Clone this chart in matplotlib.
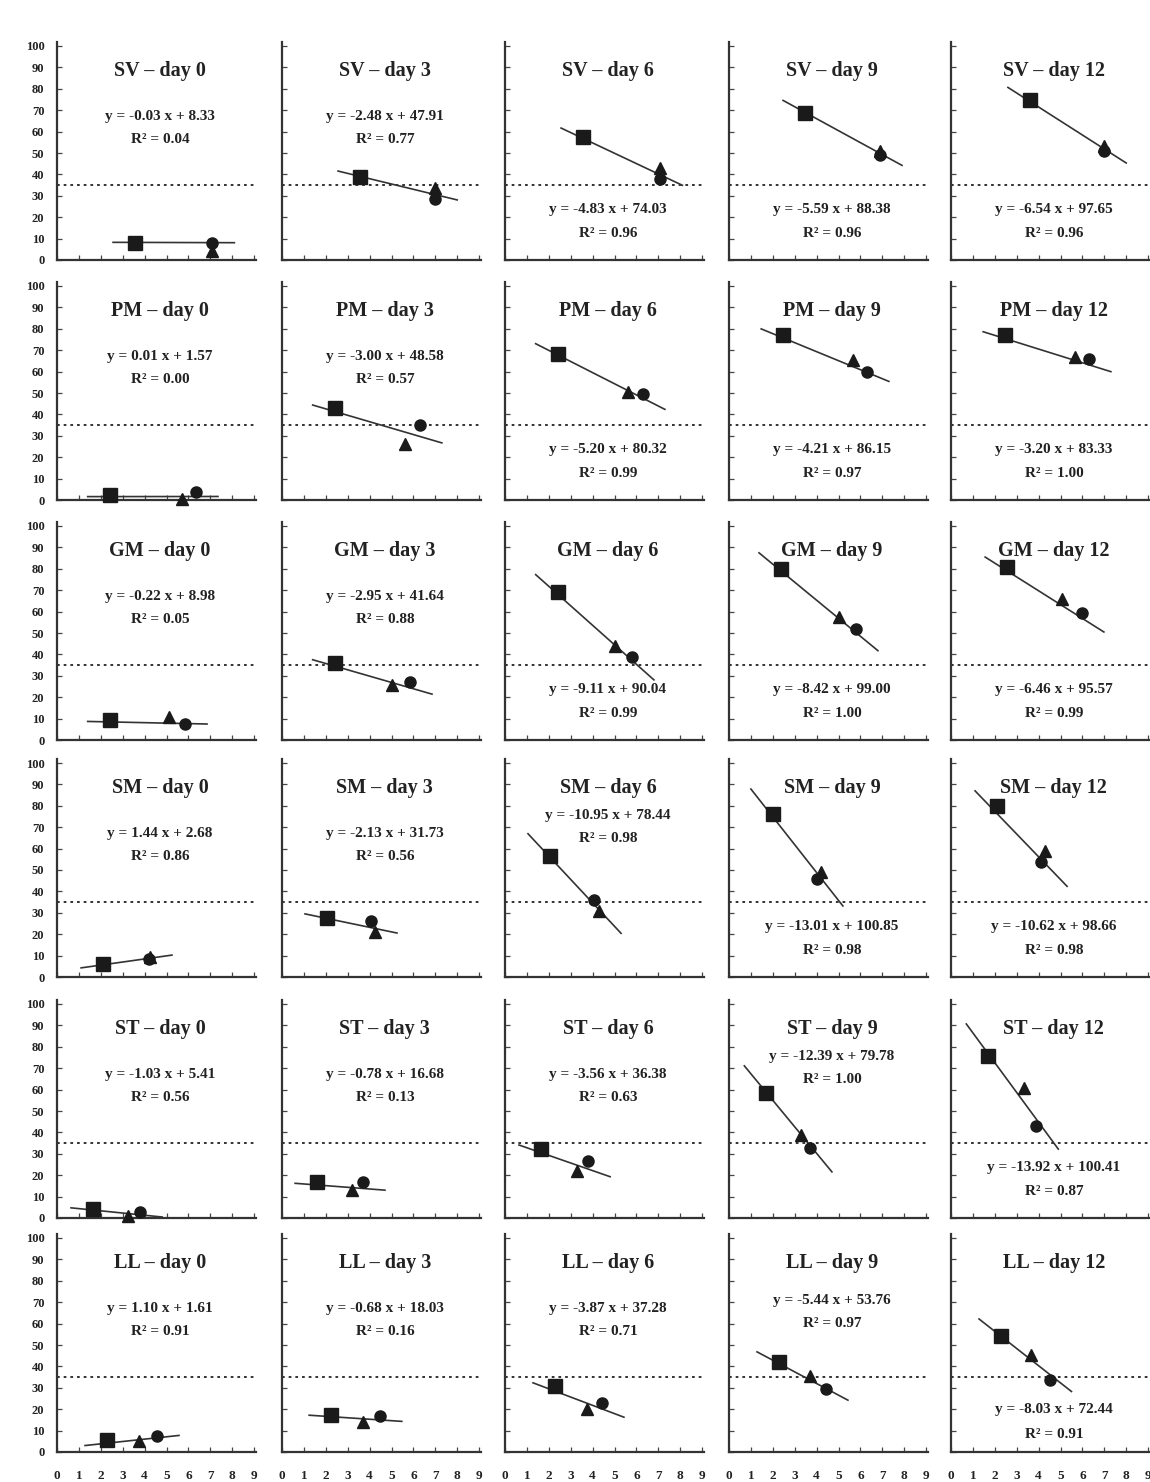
import matplotlib
matplotlib.use("Agg")
import matplotlib.pyplot as plt
import numpy as np

plt.rcParams['font.family'] = ['Liberation Serif', 'DejaVu Serif']
plt.rcParams['font.weight'] = 'bold'

groups = ['SV', 'PM', 'GM', 'SM', 'ST', 'LL']
days = [0, 3, 6, 9, 12]

# square markers (x, y) per group (rows) and day (columns)
sq_x = [[3.56, 3.56, 3.56, 3.47, 3.60],
        [2.40, 2.40, 2.40, 2.47, 2.47],
        [2.40, 2.40, 2.40, 2.37, 2.56],
        [2.10, 2.05, 2.05, 2.00, 2.10],
        [1.64, 1.60, 1.64, 1.70, 1.70],
        [2.28, 2.24, 2.28, 2.28, 2.28]]
sq_y = [[7.9, 39.0, 57.7, 68.8, 75.0],
        [2.3, 43.0, 68.0, 77.0, 77.0],
        [9.3, 36.0, 69.0, 80.0, 81.0],
        [6.1, 27.8, 56.6, 76.4, 79.7],
        [4.2, 17.0, 32.4, 58.3, 75.5],
        [5.8, 17.4, 31.0, 42.0, 54.0]]
# triangle markers
tri_x = [[7.10, 7.00, 7.10, 6.90, 7.00],
         [5.70, 5.60, 5.60, 5.66, 5.66],
         [5.10, 5.00, 5.00, 5.00, 5.07],
         [4.25, 4.25, 4.30, 4.20, 4.30],
         [3.24, 3.20, 3.30, 3.30, 3.33],
         [3.75, 3.70, 3.74, 3.70, 3.65]]
tri_y = [[4.0, 33.5, 42.8, 51.0, 53.5],
         [0.3, 26.0, 50.7, 65.4, 66.8],
         [10.7, 25.6, 44.0, 57.7, 66.0],
         [9.5, 21.0, 30.7, 49.0, 59.0],
         [1.0, 13.0, 22.0, 38.9, 60.6],
         [5.3, 14.0, 20.3, 35.3, 45.4]]
# circle markers
cir_x = [[7.10, 7.00, 7.10, 6.90, 7.00],
         [6.35, 6.30, 6.30, 6.30, 6.30],
         [5.85, 5.85, 5.80, 5.80, 5.98],
         [4.20, 4.06, 4.06, 4.00, 4.10],
         [3.80, 3.70, 3.80, 3.70, 3.90],
         [4.57, 4.47, 4.43, 4.43, 4.50]]
cir_y = [[8.0, 28.5, 38.0, 49.0, 51.0],
         [3.7, 35.0, 49.3, 60.0, 66.0],
         [7.4, 27.0, 39.0, 52.0, 59.5],
         [8.5, 26.4, 35.8, 45.7, 53.8],
         [2.8, 16.7, 26.8, 32.9, 43.0],
         [7.7, 17.0, 22.7, 29.5, 33.8]]

slopes = [[-0.03, -2.48, -4.83, -5.59, -6.54],
          [0.01, -3.00, -5.20, -4.21, -3.20],
          [-0.22, -2.95, -9.11, -8.42, -6.46],
          [1.44, -2.13, -10.95, -13.01, -10.62],
          [-1.03, -0.78, -3.56, -12.39, -13.92],
          [1.10, -0.68, -3.87, -5.44, -8.03]]
intercepts = [[8.33, 47.91, 74.03, 88.38, 97.65],
              [1.57, 48.58, 80.32, 86.15, 83.33],
              [8.98, 41.64, 90.04, 99.00, 95.57],
              [2.68, 31.73, 78.44, 100.85, 98.66],
              [5.41, 16.68, 36.38, 79.78, 100.41],
              [1.61, 18.03, 37.28, 53.76, 72.44]]
r2 = [[0.04, 0.77, 0.96, 0.96, 0.96],
      [0.00, 0.57, 0.99, 0.97, 1.00],
      [0.05, 0.88, 0.99, 1.00, 0.99],
      [0.86, 0.56, 0.98, 0.98, 0.98],
      [0.56, 0.13, 0.63, 1.00, 0.87],
      [0.91, 0.16, 0.71, 0.97, 0.91]]
label_pos = [['top', 'top', 'bot', 'bot', 'bot'],
             ['top', 'top', 'bot', 'bot', 'bot'],
             ['top', 'top', 'bot', 'bot', 'bot'],
             ['top', 'top', 'high', 'bot', 'bot'],
             ['top', 'top', 'top', 'high', 'bot'],
             ['top', 'top', 'top', 'mid', 'low']]
threshold = 35
pos_y = {'top': (67, 56.5), 'high': (75.5, 64.5), 'mid': (71, 60),
         'bot': (23.5, 12.5), 'low': (20, 8)}

W, H = 1150, 1482
fig = plt.figure(figsize=(W / 100, H / 100), dpi=100)

col_left = [57, 282, 505, 729, 951]
row_zero = [260, 500, 740, 977, 1218, 1452]
ppx = 21.9      # px per x unit
ppy = 2.14      # px per y unit
xmax, ymax = 9.1, 102

dark = '#1a1a1a'
for r in range(6):
    for c in range(5):
        left = col_left[c] / W
        bottom = 1 - row_zero[r] / H
        w = xmax * ppx / W
        h = ymax * ppy / H
        ax = fig.add_axes([left, bottom, w, h])
        ax.set_xlim(0, xmax)
        ax.set_ylim(0, ymax)
        for s in ['top', 'right']:
            ax.spines[s].set_visible(False)
        for s in ['left', 'bottom']:
            ax.spines[s].set_linewidth(1.6)
            ax.spines[s].set_color('#333333')
        ax.set_yticks(np.arange(0, 101, 10))
        ax.set_xticks(np.arange(0, 10, 1))
        ax.tick_params(direction='in', length=3.5, width=0.9, color='#444444')
        ax.tick_params(axis='y', labelsize=9, pad=9)
        ax.tick_params(axis='x', labelsize=9.5, pad=13)
        if c != 0:
            ax.set_yticklabels([])
        if r != 5:
            ax.set_xticklabels([])
        for lab in ax.get_xticklabels() + ax.get_yticklabels():
            lab.set_fontweight('bold')
            lab.set_color('#222222')

        # threshold line
        ax.axhline(threshold, color='#222222', lw=1.3, ls=(0, (1.5, 2.2)), zorder=1)

        xs = [sq_x[r][c], tri_x[r][c], cir_x[r][c]]
        x0, x1 = min(xs) - 1.0, max(xs) + 1.0
        xl = np.array([x0, x1])
        ax.plot(xl, slopes[r][c] * xl + intercepts[r][c], color='#333333', lw=1.2, zorder=2)

        ax.plot(sq_x[r][c], sq_y[r][c], 's', color=dark, ms=9.5, zorder=3, clip_on=False)
        ax.plot(tri_x[r][c], tri_y[r][c], '^', color=dark, ms=8, zorder=3, clip_on=False)
        ax.plot(cir_x[r][c], cir_y[r][c], 'o', color=dark, ms=8, zorder=3, clip_on=False)

        ax.text(4.7, 88.5, f"{groups[r]} – day {days[c]}", ha='center', va='center',
                fontsize=14.5, fontweight='bold', color='#222222')
        ey, ry = pos_y[label_pos[r][c]]
        s = slopes[r][c]
        ax.text(4.7, ey, f"y = {s:.2f} x + {intercepts[r][c]:.2f}", ha='center', va='center',
                fontsize=11, fontweight='bold', color='#222222')
        ax.text(4.7, ry, f"R² = {r2[r][c]:.2f}", ha='center', va='center',
                fontsize=11, fontweight='bold', color='#222222')

fig.savefig('out.png', dpi=100)
